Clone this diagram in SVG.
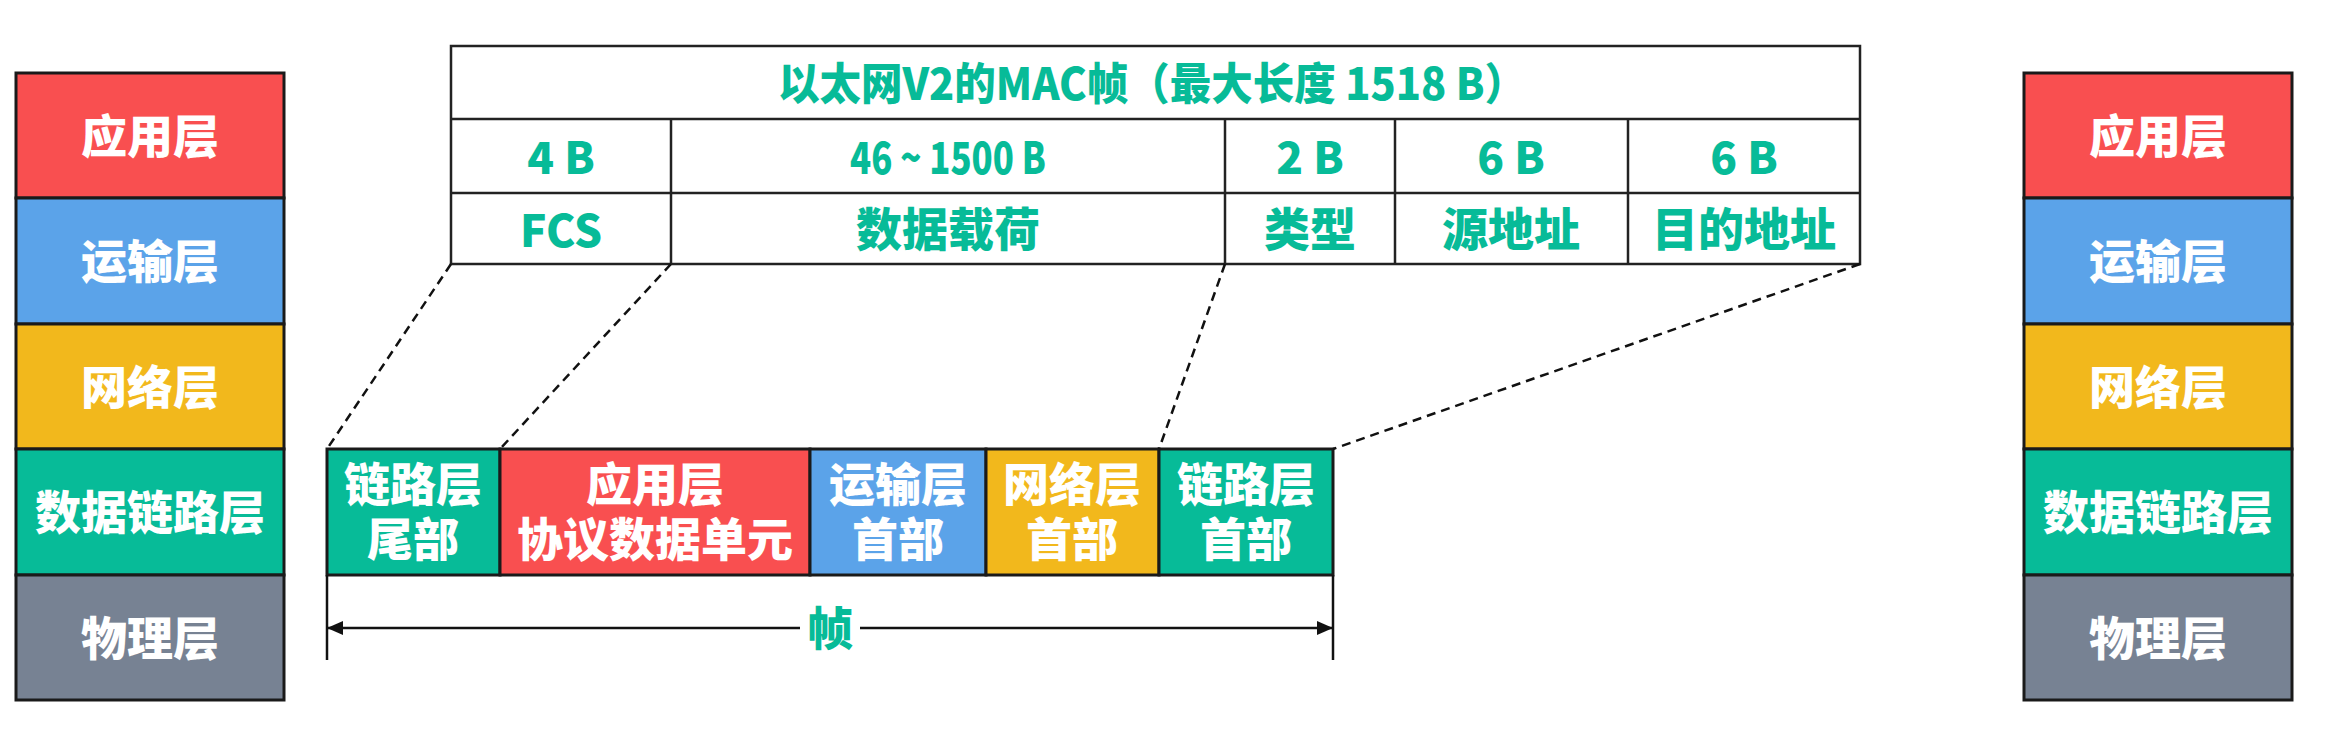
<svg xmlns="http://www.w3.org/2000/svg" width="2336" height="732" viewBox="0 0 2336 732">
<style>
.bg{fill:#ffffff}
.box{stroke:#1a1a1a;stroke-width:3}
.red{fill:#F94F50}
.blue{fill:#5BA3E9}
.yellow{fill:#F2B81C}
.green{fill:#07BB98}
.gray{fill:#778293}
.lbl{font-family:"Noto Sans CJK SC","Liberation Sans",sans-serif;font-weight:900;font-size:46px;fill:#ffffff;text-anchor:middle}
.cell{font-family:"Noto Sans CJK SC","Liberation Sans",sans-serif;font-weight:900;font-size:44px;fill:#07BB98;text-anchor:middle}
.cjk{font-size:46px}
.tbl{fill:#ffffff;stroke:#222222;stroke-width:2.5}
.tline{stroke:#222222;stroke-width:2.5;fill:none}
.dash{stroke:#111111;stroke-width:2.5;stroke-dasharray:9 6;fill:none}
.arr{stroke:#111111;stroke-width:2.5;fill:none}
</style>
<defs>
<marker id="ah" viewBox="0 0 16 14" refX="16" refY="7" markerWidth="16" markerHeight="14" markerUnits="userSpaceOnUse" orient="auto-start-reverse">
<path d="M0,0 L16,7 L0,14 Z" fill="#111111"/>
</marker>
</defs>
<rect class="bg" x="0" y="0" width="2336" height="732"/>

<g id="left-stack">
<g id="l-app"><rect class="box red" x="16" y="73" width="268" height="125"/><text class="lbl" x="150" y="153">应用层</text></g>
<g id="l-transport"><rect class="box blue" x="16" y="198" width="268" height="126"/><text class="lbl" x="150" y="278">运输层</text></g>
<g id="l-network"><rect class="box yellow" x="16" y="324" width="268" height="125"/><text class="lbl" x="150" y="404">网络层</text></g>
<g id="l-datalink"><rect class="box green" x="16" y="449" width="268" height="126"/><text class="lbl" x="150" y="529">数据链路层</text></g>
<g id="l-physical"><rect class="box gray" x="16" y="575" width="268" height="125"/><text class="lbl" x="150" y="655">物理层</text></g>
</g>

<g id="right-stack">
<g id="r-app"><rect class="box red" x="2024" y="73" width="268" height="125"/><text class="lbl" x="2158" y="153">应用层</text></g>
<g id="r-transport"><rect class="box blue" x="2024" y="198" width="268" height="126"/><text class="lbl" x="2158" y="278">运输层</text></g>
<g id="r-network"><rect class="box yellow" x="2024" y="324" width="268" height="125"/><text class="lbl" x="2158" y="404">网络层</text></g>
<g id="r-datalink"><rect class="box green" x="2024" y="449" width="268" height="126"/><text class="lbl" x="2158" y="529">数据链路层</text></g>
<g id="r-physical"><rect class="box gray" x="2024" y="575" width="268" height="125"/><text class="lbl" x="2158" y="655">物理层</text></g>
</g>

<g id="mac-table">
<rect class="tbl" x="451" y="46" width="1409" height="218"/>
<line class="tline" x1="451" y1="119" x2="1860" y2="119"/>
<line class="tline" x1="451" y1="193" x2="1860" y2="193"/>
<line class="tline" x1="671" y1="119" x2="671" y2="264"/>
<line class="tline" x1="1225" y1="119" x2="1225" y2="264"/>
<line class="tline" x1="1395" y1="119" x2="1395" y2="264"/>
<line class="tline" x1="1628" y1="119" x2="1628" y2="264"/>
<text class="cell" x="1152" y="100" textLength="748" lengthAdjust="spacingAndGlyphs">以太网V2的MAC帧（最大长度 1518 B）</text>
<text class="cell" x="561" y="174">4 B</text>
<text class="cell" x="948" y="174" textLength="196" lengthAdjust="spacingAndGlyphs">46 ~ 1500 B</text>
<text class="cell" x="1310" y="174">2 B</text>
<text class="cell" x="1511" y="174">6 B</text>
<text class="cell" x="1744" y="174">6 B</text>
<text class="cell" x="561" y="247">FCS</text>
<text class="cell cjk" x="948" y="246">数据载荷</text>
<text class="cell cjk" x="1310" y="246">类型</text>
<text class="cell cjk" x="1511" y="246">源地址</text>
<text class="cell cjk" x="1744" y="246">目的地址</text>
</g>

<g id="frame">
<g id="f-trailer"><rect class="box green" x="327" y="449" width="173" height="126"/><text class="lbl" x="413" y="501">链路层</text><text class="lbl" x="413" y="556">尾部</text></g>
<g id="f-app"><rect class="box red" x="500" y="449" width="310" height="126"/><text class="lbl" x="655" y="501">应用层</text><text class="lbl" x="655" y="556">协议数据单元</text></g>
<g id="f-transport"><rect class="box blue" x="810" y="449" width="176" height="126"/><text class="lbl" x="898" y="501">运输层</text><text class="lbl" x="898" y="556">首部</text></g>
<g id="f-network"><rect class="box yellow" x="986" y="449" width="173" height="126"/><text class="lbl" x="1072" y="501">网络层</text><text class="lbl" x="1072" y="556">首部</text></g>
<g id="f-header"><rect class="box green" x="1159" y="449" width="174" height="126"/><text class="lbl" x="1246" y="501">链路层</text><text class="lbl" x="1246" y="556">首部</text></g>
</g>

<g id="connectors">
<line class="dash" x1="451" y1="264" x2="327" y2="449"/>
<line class="dash" x1="671" y1="264" x2="500" y2="449"/>
<line class="dash" x1="1225" y1="264" x2="1159" y2="449"/>
<line class="dash" x1="1860" y1="264" x2="1333" y2="449"/>
<line class="arr" x1="327" y1="575" x2="327" y2="660"/>
<line class="arr" x1="1333" y1="575" x2="1333" y2="660"/>
<line class="arr" x1="800" y1="628" x2="327" y2="628" marker-end="url(#ah)"/>
<line class="arr" x1="860" y1="628" x2="1333" y2="628" marker-end="url(#ah)"/>
<text class="cell cjk" x="830" y="645">帧</text>
</g>
</svg>
